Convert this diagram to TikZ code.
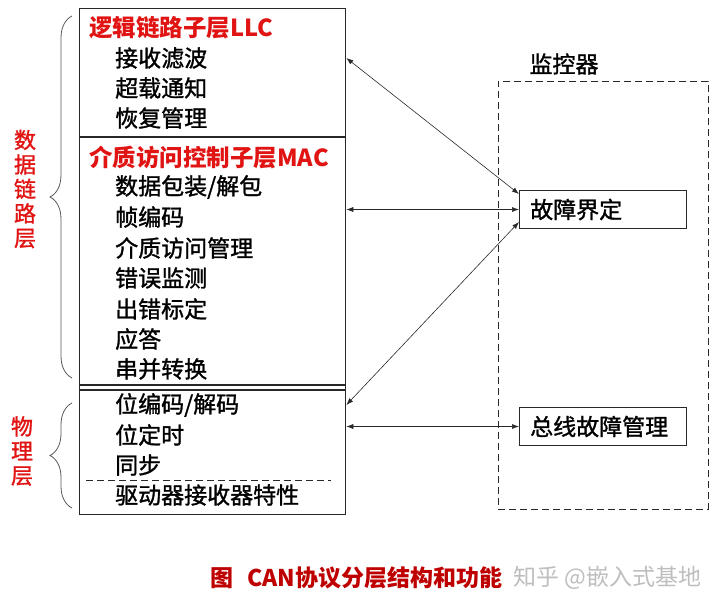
\documentclass[tikz,border=0pt]{standalone}
\usepackage{fontspec}
\setmainfont{Noto Sans CJK SC}
\newfontfamily\cjkmid{Noto Sans CJK SC}[FakeBold=1.3]
\usepackage{tikz}
\usetikzlibrary{positioning, calc, arrows.meta, decorations.pathreplacing}
\definecolor{ink}{RGB}{40,40,40}
\definecolor{lyr}{RGB}{225,20,20}
\definecolor{cap}{RGB}{190,0,0}
\definecolor{wm}{RGB}{190,190,190}
\tikzset{
  item/.style={anchor=west,inner sep=0pt,text=black,
    font=\fontsize{23}{27}\cjkmid},
  head/.style={anchor=west,inner sep=0pt,text=lyr,
    font=\fontsize{23.5}{27}\selectfont\bfseries},
  side/.style={inner sep=0pt,text=lyr,align=center,
    font=\fontsize{22}{24.5}\cjkmid},
  fbox/.style={draw=ink,line width=1pt,anchor=north west,inner sep=0pt,
    minimum width=167pt,minimum height=38pt},
  arr/.style={{Latex[length=7pt,width=5pt]}-{Latex[length=7pt,width=5pt]},
    line width=0.6pt,draw=ink},
  brc/.style={draw=black!65,line width=0.8pt,decorate,
    decoration={brace,amplitude=22pt}},
  dsh/.style={dash pattern=on 7pt off 4pt},
}
\begin{document}
\begin{tikzpicture}[x=1pt,y=-1pt]
  \useasboundingbox (0,0) rectangle (720,609);
  % protocol stack
  \node[draw=ink,line width=1.3pt,anchor=north west,inner sep=0pt,
    minimum width=266pt,minimum height=506pt] (stack) at (79,8) {};
  \draw[ink,line width=1.3pt] (stack.west |- 0,137) -- (stack.east |- 0,137);
  \draw[ink,line width=1.1pt] (stack.west |- 0,385) -- (stack.east |- 0,385);
  \draw[ink,line width=1.1pt] (stack.west |- 0,390) -- (stack.east |- 0,390);
  \draw[ink,dsh,line width=0.8pt] (86,480) -- (331,480);

  \node[head] (llc) at (89,28) {逻辑链路子层LLC};
  \node[item] (recv) at (115,58) {接收滤波};
  \node[item] (ovl) at (115,88) {超载通知};
  \node[item] (rec) at (115,118) {恢复管理};
  \node[head] (mac) at (89,158) {介质访问控制子层MAC};
  \node[item] (pack) at (115,187) {数据包装/解包};
  \node[item] (frm) at (115,217) {帧编码};
  \node[item] (acc) at (115,248) {介质访问管理};
  \node[item] (err) at (115,278) {错误监测};
  \node[item] (sig) at (115,309) {出错标定};
  \node[item] (ack) at (115,339) {应答};
  \node[item] (ser) at (115,369) {串并转换};
  \node[item] (bitc) at (115,405) {位编码/解码};
  \node[item] (bitt) at (115,435) {位定时};
  \node[item] (sync) at (115,465) {同步};
  \node[item] (drv) at (115,495) {驱动器接收器特性};

  % layer braces
  \coordinate (dlTop) at (72,16);
  \coordinate (dlBot) at (72,378);
  \coordinate (phTop) at (72,403);
  \coordinate (phBot) at (72,508);
  \draw[brc] (dlBot) -- (dlTop);
  \draw[brc] (phBot) -- (phTop);
  \node[side] (dll) at (25,189) {数\\据\\链\\路\\层};
  \node[side] (phy) at (22,451) {物\\理\\层};

  % monitor
  \node[draw=ink,dsh,line width=0.9pt,anchor=north west,inner sep=0pt,
    minimum width=210pt,minimum height=428pt] (mon) at (498,81) {};
  \node[item,anchor=center] (monl) at (564,64) {监控器};
  \node[fbox] (fault) at (519,190) {};
  \node[item] at ([xshift=11pt]fault.west) {故障界定};
  \node[fbox] (bus) at (519,407) {};
  \node[item] at ([xshift=11pt]bus.west) {总线故障管理};

  \draw[arr] (stack.east |- recv) -- ([yshift=-4pt]fault.north west);
  \draw[arr] (stack.east |- fault.west) -- (fault.west);
  \draw[arr] (stack.east |- bitc) -- ([yshift=7pt]fault.south west);
  \draw[arr] (stack.east |- bus.west) -- (bus.west);

  % caption
  \node[anchor=west,inner sep=0pt,text=cap,
    font=\fontsize{23}{27}\selectfont\bfseries] (title) at (210,578)
    {图\hspace{14pt}CAN协议分层结构和功能};
  \node[anchor=west,inner sep=0pt,text=wm,
    font=\fontsize{23}{27}\selectfont] (mark) at (513,578) {知乎 @嵌入式基地};
\end{tikzpicture}
\end{document}
